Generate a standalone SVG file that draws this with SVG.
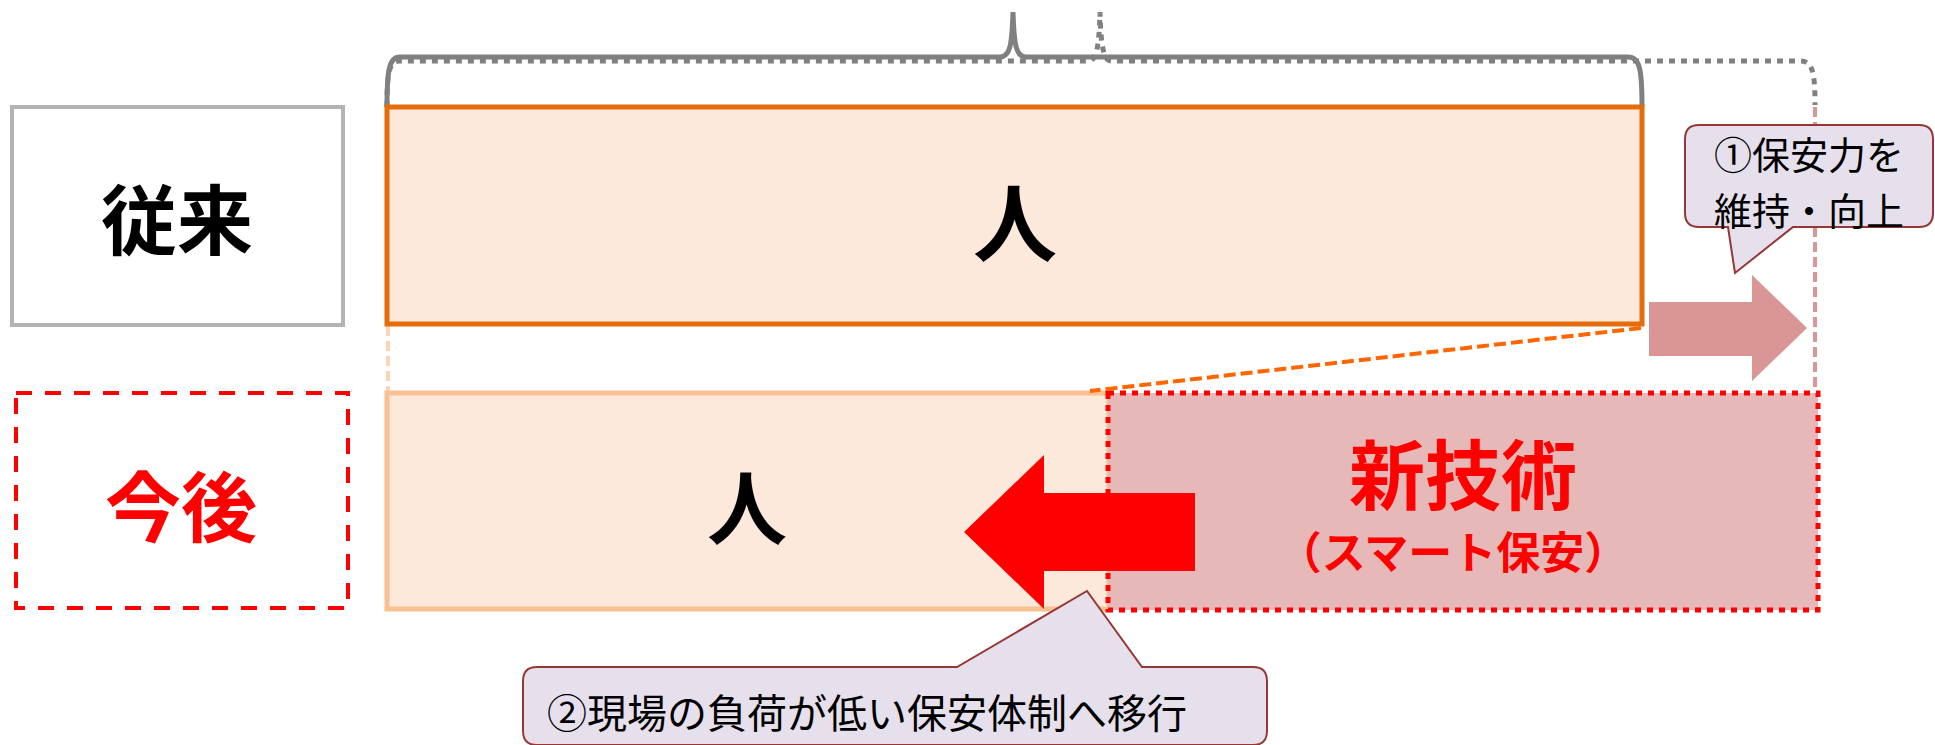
<svg xmlns="http://www.w3.org/2000/svg" width="1935" height="745" viewBox="0 0 1935 745">
<style>
.jp{font-family:"Noto Sans CJK JP","Noto Sans CJK SC",sans-serif;}
.big{font-size:76px;font-weight:700;}
.call{font-size:40px;fill:#000;}
.callbox{fill:#e6e0ec;stroke:#953735;stroke-width:2;}
</style>
<rect width="1935" height="745" fill="#fff"/>
<g id="connectors">
  <path id="brace-dashed" d="M387,107 C387,72 389,61 400,61 L1088,61 C1096,61 1099,50 1100,12 C1101,50 1104,61 1112,61 L1800,61 C1812,61 1815,70 1815,105" fill="none" stroke="#808080" stroke-width="5" stroke-dasharray="6 6"/>
  <path id="brace-solid" d="M387,107 C387,70 389,57 400,57 L1000,57 C1010,57 1012,45 1013,12 C1014,45 1016,57 1026,57 L1628,57 C1640,57 1642,70 1642,107" fill="none" stroke="#808080" stroke-width="5"/>
  <line x1="1815" y1="107" x2="1815" y2="392" stroke="#d99694" stroke-width="4" stroke-dasharray="10 5"/>
  <line x1="388" y1="326" x2="388" y2="392" stroke="#fbd5b5" stroke-width="4" stroke-dasharray="10 5"/>
</g>
<g id="label-old">
  <rect x="12" y="107" width="331" height="218" fill="#fff" stroke="#b3b3b3" stroke-width="4"/>
  <text class="jp big" x="177" y="216" text-anchor="middle" dominant-baseline="central" fill="#000">従来</text>
</g>
<g id="label-new">
  <rect x="16" y="393" width="332" height="215" fill="#fff" stroke="#ff0000" stroke-width="4" stroke-dasharray="16 13"/>
  <text class="jp big" x="181" y="503" text-anchor="middle" dominant-baseline="central" fill="#ff0000">今後</text>
</g>
<g id="human-old">
  <rect x="387" y="107" width="1255" height="217" fill="#fce9db" stroke="#e46c0a" stroke-width="5"/>
  <text class="jp" x="1015" y="218" font-size="84" font-weight="700" text-anchor="middle" dominant-baseline="central" fill="#000">人</text>
</g>
<g id="human-new">
  <rect x="387" y="393" width="722" height="216" fill="#fce9db" stroke="#fac090" stroke-width="5"/>
  <text class="jp" x="747" y="503" font-size="80" font-weight="700" text-anchor="middle" dominant-baseline="central" fill="#000">人</text>
</g>
<g id="smart">
  <rect x="1108" y="393" width="710" height="217" fill="#e6b9b8" stroke="#ff0000" stroke-width="5" stroke-dasharray="6 6"/>
  <text class="jp big" x="1463" y="471" text-anchor="middle" dominant-baseline="central" fill="#ff0000">新技術</text>
  <text class="jp" x="1453" y="550" font-size="44" font-weight="700" text-anchor="middle" dominant-baseline="central" fill="#ff0000">（スマート保安）</text>
</g>
<g id="connectors-2">
  <line x1="1641" y1="328" x2="1090" y2="391" stroke="#ff6600" stroke-width="4" stroke-dasharray="12 5"/>
</g>
<g id="arrow-up">
  <polygon points="1649,302 1752,302 1752,275 1807,328 1752,381 1752,356 1649,356" fill="#d99694"/>
</g>
<g id="arrow-left">
  <polygon points="964,532 1044,455 1044,493 1195,493 1195,571 1044,571 1044,609" fill="#ff0000"/>
</g>
<g id="callout-1">
  <path class="callbox" d="M1699,125 H1919 Q1933,125 1933,139 V213 Q1933,227 1919,227 H1793 L1735,273 L1728,227 H1699 Q1685,227 1685,213 V139 Q1685,125 1699,125 Z"/>
  <text class="jp" x="1809" y="152" font-size="38" text-anchor="middle" dominant-baseline="central">①保安力を</text>
  <text class="jp" x="1809" y="208" font-size="38" text-anchor="middle" dominant-baseline="central">維持・向上</text>
</g>
<g id="callout-2">
  <path class="callbox" d="M537,667 H957 L1087,591 L1142,667 H1253 Q1267,667 1267,681 V731 Q1267,745 1253,745 H537 Q523,745 523,731 V681 Q523,667 537,667 Z"/>
  <text class="jp call" x="547" y="711" dominant-baseline="central">②現場の負荷が低い保安体制へ移行</text>
</g>
</svg>
